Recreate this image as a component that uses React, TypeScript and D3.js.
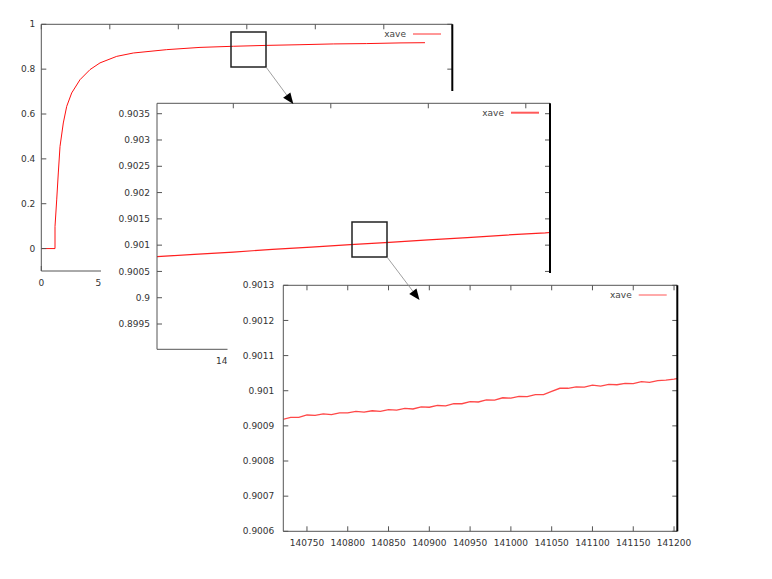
import React from 'react';
import * as d3 from 'd3';

const FONT = "'DejaVu Sans', sans-serif";

// full run
const runX = [0, 10000, 10000, 11240, 12410, 13650, 16060, 18540, 22190, 28250, 35550, 42850, 55040, 67150, 91530, 115840, 140150, 164510, 188830, 213140, 237520, 261830, 280070];
const runY = [0, 0, 0.098, 0.217, 0.337, 0.455, 0.56, 0.634, 0.694, 0.753, 0.798, 0.828, 0.857, 0.872, 0.887, 0.897, 0.902, 0.906, 0.909, 0.9125, 0.914, 0.917, 0.918];
const runXTicks = [0, 50000, 100000, 150000, 200000, 250000, 300000];
const runYTicks = [0, 0.2, 0.4, 0.6, 0.8, 1];

// first zoom
const midX = [136000, 138000, 140000, 142000, 144000, 146000, 148000, 150000, 152000, 154000, 156000, 156300];
const midY = [0.900778, 0.900826, 0.900869, 0.900919, 0.900962, 0.901011, 0.901053, 0.901102, 0.901143, 0.901192, 0.901233, 0.901242];
const midXTicks = [140000, 145000, 150000, 155000];
const midYTicks = [0.8995, 0.9, 0.9005, 0.901, 0.9015, 0.902, 0.9025, 0.903, 0.9035];

// second zoom
const closeX = [140720, 140730, 140740, 140750, 140760, 140770, 140780, 140790, 140800, 140810, 140820, 140830, 140840, 140850, 140860, 140870, 140880, 140890, 140900, 140910, 140920, 140930, 140940, 140950, 140960, 140970, 140980, 140990, 141000, 141010, 141020, 141030, 141040, 141050, 141060, 141070, 141080, 141090, 141100, 141110, 141120, 141130, 141140, 141150, 141160, 141170, 141180, 141190, 141200, 141205];
const closeY = [0.900918, 0.900924, 0.900924, 0.900931, 0.90093, 0.900934, 0.900932, 0.900937, 0.900937, 0.900941, 0.900939, 0.900943, 0.900941, 0.900946, 0.900945, 0.90095, 0.900948, 0.900954, 0.900953, 0.900958, 0.900957, 0.900963, 0.900963, 0.900969, 0.900968, 0.900974, 0.900973, 0.90098, 0.900979, 0.900984, 0.900983, 0.900989, 0.900989, 0.900998, 0.901007, 0.901007, 0.901011, 0.90101, 0.901016, 0.901013, 0.901018, 0.901017, 0.901021, 0.90102, 0.901026, 0.901024, 0.901029, 0.90103, 0.901033, 0.901035];
const closeXTicks = [140750, 140800, 140850, 140900, 140950, 141000, 141050, 141100, 141150, 141200];
const closeYTicks = [0.9006, 0.9007, 0.9008, 0.9009, 0.901, 0.9011, 0.9012, 0.9013];

const fmt = (v: number) => String(+v.toFixed(6));
const CHAR_W = 5.7;

type Rect = [number, number, number, number];

type PanelProps = {
  id: string;
  frame: [number, number, number, number];
  xDomain: [number, number];
  yDomain: [number, number];
  xs: number[];
  ys: number[];
  xTicks: number[];
  yTicks: number[];
  lineColor: string;
  lineWidth: number;
  legend: [number, number];
  legendColor: string;
  legendWidth: number;
  gap: number;
  cover?: Rect; // area hidden by the next plot pasted on top
};

// true when a text box lies wholly under the cover
function hidden(cover: Rect | undefined, x0: number, y0: number, x1: number, y1: number) {
  if (!cover) return false;
  const [cx, cy, cw, ch] = cover;
  return x0 >= cx && x1 <= cx + cw && y0 >= cy && y1 <= cy + ch;
}

function Panel(p: PanelProps) {
  const [l, t, r, b] = p.frame;
  const x = d3.scaleLinear().domain(p.xDomain).range([l, r]);
  const y = d3.scaleLinear().domain(p.yDomain).range([b, t]);
  const line = d3.line<number>().x((_, i) => x(p.xs[i])).y((d) => y(d));
  const axis = '#555';
  const textClip = p.cover ? `url(#${p.id}-txt)` : undefined;
  return (
    <g>
      <defs>
        <clipPath id={p.id}>
          <rect x={l} y={t} width={r - l} height={b - t} />
        </clipPath>
        {p.cover && (
          <clipPath id={`${p.id}-txt`}>
            <path
              clipRule="evenodd"
              d={`M0,0H772V579H0Z M${p.cover[0]},${p.cover[1]}h${p.cover[2]}v${p.cover[3]}h${-p.cover[2]}Z`}
            />
          </clipPath>
        )}
      </defs>
      <path d={line(p.ys) || ''} fill="none" stroke={p.lineColor} strokeWidth={p.lineWidth} clipPath={`url(#${p.id})`} />
      {p.yTicks.map((v) => {
        const s = fmt(v);
        const w = s.length * CHAR_W;
        const show = !hidden(p.cover, l - p.gap - w, y(v) - 5, l - p.gap, y(v) + 5);
        return (
          <g key={'y' + v}>
            <line x1={l} x2={l + 5} y1={y(v)} y2={y(v)} stroke={axis} />
            <line x1={r - 5} x2={r} y1={y(v)} y2={y(v)} stroke={axis} />
            {show && (
              <text x={l - p.gap} y={y(v)} dy="0.35em" textAnchor="end" fontSize={9} fill="#333" clipPath={textClip}>{s}</text>
            )}
          </g>
        );
      })}
      {p.xTicks.map((v) => {
        const s = fmt(v);
        const w = s.length * CHAR_W;
        const show = !hidden(p.cover, x(v) - w / 2, b + 7, x(v) + w / 2, b + 17);
        return (
          <g key={'x' + v}>
            <line x1={x(v)} x2={x(v)} y1={b} y2={b - 5} stroke={axis} />
            <line x1={x(v)} x2={x(v)} y1={t} y2={t + 5} stroke={axis} />
            {show && (
              <text x={x(v)} y={b + 15} textAnchor="middle" fontSize={9} fill="#333" clipPath={textClip}>{s}</text>
            )}
          </g>
        );
      })}
      <line x1={l} x2={r} y1={t} y2={t} stroke={axis} />
      <line x1={l} x2={r} y1={b} y2={b} stroke={axis} />
      <line x1={l} x2={l} y1={t} y2={b} stroke={axis} />
      <line x1={r} x2={r} y1={t} y2={b} stroke="#000" strokeWidth={2} />
      <text x={p.legend[0]} y={p.legend[1]} dy="0.35em" textAnchor="end" fontSize={9} fill="#444">xave</text>
      <line x1={p.legend[0] + 7} x2={p.legend[0] + 35} y1={p.legend[1]} y2={p.legend[1]} stroke={p.legendColor} strokeWidth={p.legendWidth} />
    </g>
  );
}

function Arrow({ from, to }: { from: [number, number]; to: [number, number] }) {
  const dx = to[0] - from[0];
  const dy = to[1] - from[1];
  const len = Math.hypot(dx, dy);
  const ux = dx / len;
  const uy = dy / len;
  const head = 11;
  const half = 4.5;
  const bx = to[0] - ux * head;
  const by = to[1] - uy * head;
  const pts = [
    [to[0], to[1]],
    [bx - uy * half, by + ux * half],
    [bx + uy * half, by - ux * half],
  ];
  return (
    <g>
      <line x1={from[0]} y1={from[1]} x2={bx} y2={by} stroke="#888" strokeWidth={0.8} />
      <polygon points={pts.map((q) => q.join(',')).join(' ')} fill="#000" />
    </g>
  );
}

const midSheet: Rect = [101, 91, 671, 285];
const closeSheet: Rect = [227.5, 273, 544.5, 306];

export default function App() {
  return (
    <svg width={772} height={579} style={{ position: 'absolute', left: 0, top: 0, fontFamily: FONT }}>
      <rect x={0} y={0} width={772} height={579} fill="#fff" />
      <Panel
        id="c1"
        frame={[41.3, 24.3, 452.3, 271]}
        xDomain={[0, 300000]}
        yDomain={[-0.1, 1]}
        xs={runX}
        ys={runY}
        xTicks={runXTicks}
        yTicks={runYTicks}
        lineColor="#ff1010"
        lineWidth={1}
        legend={[406, 34]}
        legendColor="#ff3030"
        legendWidth={1}
        gap={6}
        cover={midSheet}
      />
      <rect x={midSheet[0]} y={midSheet[1]} width={midSheet[2]} height={midSheet[3]} fill="#fff" />
      <Panel
        id="c2"
        frame={[157, 103.3, 550, 349.3]}
        xDomain={[136087, 156241]}
        yDomain={[0.899019, 0.903698]}
        xs={midX}
        ys={midY}
        xTicks={midXTicks}
        yTicks={midYTicks}
        lineColor="#ff2020"
        lineWidth={1.2}
        legend={[504, 112.7]}
        legendColor="#ff5a5a"
        legendWidth={2}
        gap={7}
        cover={closeSheet}
      />
      <rect x={closeSheet[0]} y={closeSheet[1]} width={closeSheet[2]} height={closeSheet[3]} fill="#fff" />
      <Panel
        id="c3"
        frame={[283.3, 285.3, 677.3, 531.3]}
        xDomain={[140721, 141204]}
        yDomain={[0.9006, 0.9013]}
        xs={closeX}
        ys={closeY}
        xTicks={closeXTicks}
        yTicks={closeYTicks}
        lineColor="#ff4848"
        lineWidth={1.3}
        legend={[631.7, 295]}
        legendColor="#ffaaaa"
        legendWidth={2}
        gap={9}
      />
      <rect x={231} y={32} width={35} height={35} fill="none" stroke="#222" strokeWidth={1.5} />
      <rect x={352} y={222} width={35} height={35} fill="none" stroke="#222" strokeWidth={1.5} />
      <Arrow from={[266, 67]} to={[293.3, 104]} />
      <Arrow from={[387, 257]} to={[419.5, 300]} />
    </svg>
  );
}
